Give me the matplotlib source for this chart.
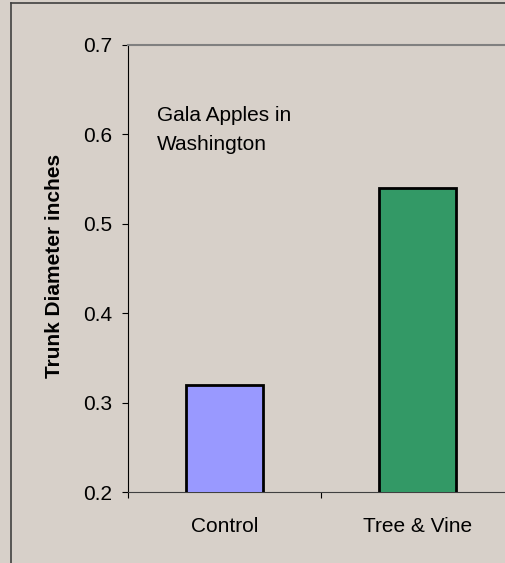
import matplotlib
matplotlib.use('Agg')
from matplotlib import pyplot as plt
from matplotlib.lines import Line2D

plt.rcParams['font.family'] = ['Liberation Sans', 'DejaVu Sans']

categories = ['Control', 'Tree & Vine']
values = [0.32, 0.54]
bar_colors = ['#9999ff', '#339966']
y_ticks = [0.2, 0.3, 0.4, 0.5, 0.6, 0.7]

bg = '#d7d0c9'

fig = plt.figure(figsize=(5.06, 5.63), dpi=100, facecolor=bg)
ax = fig.add_axes([128 / 506, 71 / 563, 386 / 506, 447 / 563])
ax.set_facecolor(bg)

x = list(range(len(categories)))
ax.bar(x, values, width=0.4, color=bar_colors,
       edgecolor='black', linewidth=2, zorder=3)

ax.set_xlim(-0.5, 1.5)
ax.set_ylim(0.2, 0.7)
ax.set_yticks(y_ticks)
ax.set_yticklabels(['%.1f' % v for v in y_ticks])
ax.set_xticks([-0.5, 0.5, 1.5])
ax.set_xticklabels([])
ax.set_xticks(x, minor=True)
ax.set_xticklabels(categories, minor=True)
ax.tick_params(axis='x', which='minor', length=0, pad=18, labelsize=15)
ax.tick_params(axis='x', which='major', length=4.5, direction='out')
ax.tick_params(axis='y', length=4.5, direction='out', labelsize=15, pad=7)

ax.spines['right'].set_visible(False)
ax.spines['top'].set_color('#808080')
ax.spines['top'].set_linewidth(1.5)
ax.spines['left'].set_color('black')
ax.spines['bottom'].set_color('#404040')

fig.text(55 / 506, 1 - 266 / 563, 'Trunk Diameter inches', rotation=90,
         fontsize=15, fontweight='bold', ha='center', va='center')

ax.text((157 - 128) / 386, (492 - 106) / 447, 'Gala Apples in\nWashington',
        transform=ax.transAxes, fontsize=15, va='top', ha='left', linespacing=1.68)

# outer frame (left and top edges)
fig.add_artist(Line2D([11 / 506, 11 / 506], [0, 1 - 3 / 563], color='#404040', lw=1.2))
fig.add_artist(Line2D([11 / 506, 1], [1 - 3 / 563, 1 - 3 / 563], color='#404040', lw=1.2))

fig.savefig('out.png', dpi=100, facecolor=bg)
